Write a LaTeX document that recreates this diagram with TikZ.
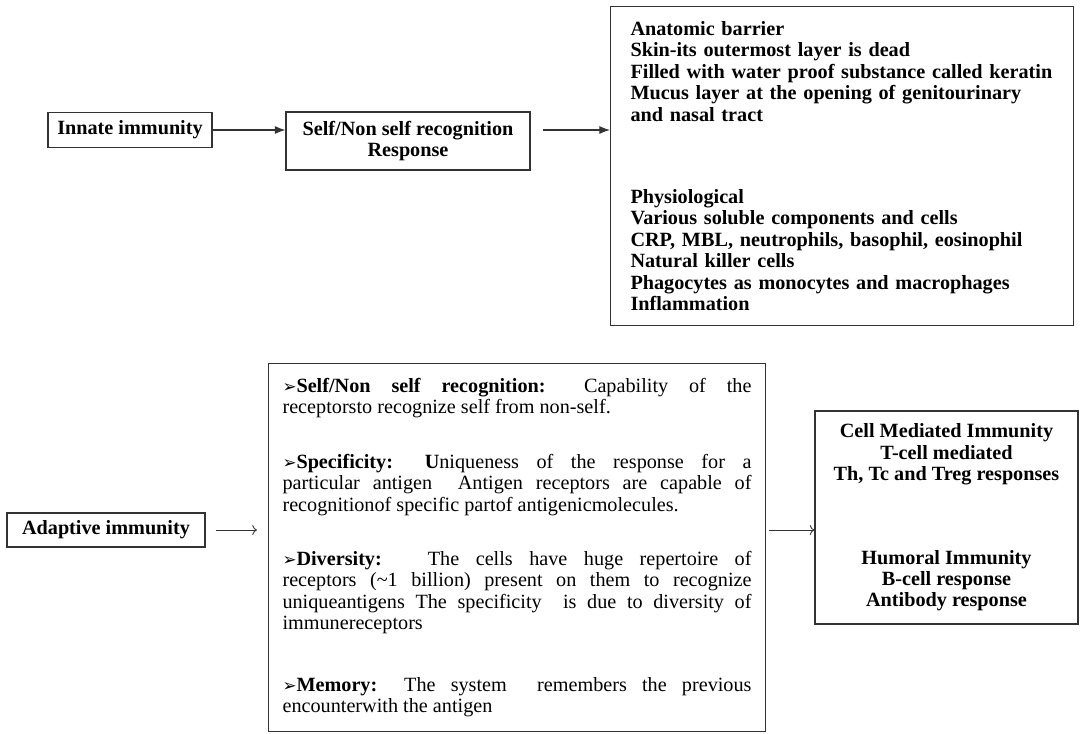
\documentclass[tikz,border=0pt]{standalone}
\usepackage{fontspec}
\setmainfont{Liberation Serif}
\newfontfamily\dingfont{DejaVu Sans}
\usetikzlibrary{positioning,arrows.meta}
\definecolor{EdgeGray}{HTML}{333333}
\newcommand{\trait}[1]{{\dingfont\fontsize{9.5}{12}\selectfont ➢}\textbf{#1}}
\newcommand{\gapline}[1]{\par\vspace{#1}}

\tikzset{
  box/.style={draw=EdgeGray, line width=0.6pt, font=\fontsize{11.5}{12.2}\selectfont\bfseries, align=center},
  listbox/.style={draw=EdgeGray, line width=0.6pt, font=\fontsize{11.5}{12.2}\selectfont, anchor=north west},
  flow/.style={-{Latex[length=6pt,width=4.5pt]}, line width=0.6pt, EdgeGray},
  thinflow/.style={->, line width=0.5pt, EdgeGray}
}

\begin{document}
\begin{tikzpicture}
\useasboundingbox (0,0) rectangle (21.6,-14.66);

% Innate immunity
\node[box, minimum width=3.28cm, minimum height=0.7cm] (innate) at (2.6,-2.6) {Innate immunity};
\node[box, minimum width=4.88cm, minimum height=1.16cm] (selfresp) at (8.16,-2.82) {Self/Non self recognition\\Response};
\node[listbox, font=\fontsize{11.5}{12.2}\selectfont\bfseries, text width=8.46cm, inner xsep=0.4cm, minimum height=6.38cm, align=left] (barrier) at (12.2,-0.12)
  {Anatomic barrier\\
   Skin-its outermost layer is dead\\
   Filled with water proof substance called keratin\\
   Mucus layer at the opening of genitourinary\\
   and nasal tract\\[1.22cm]
   Physiological\\
   Various soluble components and cells\\
   CRP, MBL, neutrophils, basophil, eosinophil\\
   Natural killer cells\\
   Phagocytes as monocytes and macrophages\\
   Inflammation};

% Adaptive immunity
\node[box, minimum width=3.96cm, minimum height=0.68cm] (adaptive) at (2.12,-10.6) {Adaptive immunity};
\node[listbox, text width=9.38cm, inner xsep=0.28cm, minimum height=7.36cm, align=justify] (traits) at (5.36,-7.26)
  {\trait{Self/Non self recognition:} Capability of the\linebreak
   receptorsto recognize self from non-self.\gapline{0.66cm}
   \trait{Specificity: U}niqueness of the response for a\linebreak
   particular antigen~ Antigen receptors are capable of\linebreak
   recognitionof specific partof antigenicmolecules.\gapline{0.66cm}
   \trait{Diversity:}~ The cells have huge repertoire of\linebreak
   receptors (\textasciitilde1 billion) present on them to recognize\linebreak
   uniqueantigens The specificity~ is due to diversity of\linebreak
   immunereceptors\gapline{0.8cm}
   \trait{Memory:} The system~ remembers the previous\linebreak
   encounterwith the antigen};
\node[box, minimum width=5.26cm, minimum height=4.26cm] (cellbox) at (18.93,-10.35)
  {Cell Mediated Immunity\\
   T-cell mediated\\
   Th, Tc and Treg responses\\[1.24cm]
   Humoral Immunity\\
   B-cell response\\
   Antibody response};

% Arrows
\draw[flow] (innate.east) -- (innate.east -| selfresp.west);
\draw[flow, shorten <=0.24cm] (selfresp.east |- innate.east) -- (barrier.west |- innate.east);
\draw[thinflow, shorten <=0.2cm, shorten >=0.22cm] (adaptive.east) -- (adaptive.east -| traits.west);
\draw[thinflow, shorten <=0.06cm] (traits.east |- adaptive.east) -- (cellbox.west |- adaptive.east);

\end{tikzpicture}
\end{document}
